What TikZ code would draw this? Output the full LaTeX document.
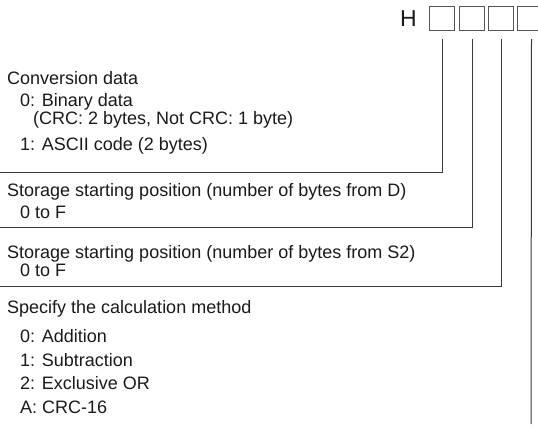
\documentclass[tikz,border=0pt]{standalone}
\usepackage{fontspec}
\setmainfont{Liberation Sans}
\definecolor{txt}{HTML}{1A1A1A}
\definecolor{ln}{HTML}{3A3A3A}
\definecolor{bx}{HTML}{555555}
\begin{document}
\begin{tikzpicture}[x=1pt,y=-1pt,
  lbl/.style={anchor=base west,inner sep=0pt,text=txt,font=\fontsize{18}{20}\selectfont},
  digitbox/.style={draw=bx,line width=1pt,minimum width=25pt,minimum height=24pt,inner sep=0pt,anchor=north west},
  leader/.style={draw=ln,line width=1pt}]
\clip (0,0) rectangle (538,426);
% header
\node[anchor=base east,inner sep=0pt,text=txt,font=\fontsize{23}{25}\selectfont] (H) at (417,26) {H};
\node[digitbox] (b1) at (429,6) {};
\node[digitbox] (b2) at (459,6) {};
\node[digitbox] (b3) at (488,6) {};
\node[digitbox] (b4) at (517,6) {};
% leader end points
\coordinate (e1) at (0,172);
\coordinate (e2) at (0,227);
\coordinate (e3) at (0,286);
\coordinate (e4) at (531,424);
% leaders
\draw[leader] ([yshift=-8pt]b1.south) |- (e1);
\draw[leader] ([yshift=-8pt]b2.south) |- (e2);
\draw[leader] ([yshift=-8pt]b3.south) |- (e3);
\draw[leader] ([yshift=-8pt,xshift=1.5pt]b4.south) -- (e4);
% texts
\node[lbl] (t1) at (7,84) {Conversion data};
\node[lbl] (t1a) at (20,106) {0: Binary data};
\node[lbl] (t1b) at (33,124) {(CRC: 2 bytes, Not CRC: 1 byte)};
\node[lbl] (t1c) at (20,150) {1: ASCII code (2 bytes)};
\node[lbl] (t2) at (7,196) {Storage starting position (number of bytes from D)};
\node[lbl] (t2a) at (20,218) {0 to F};
\node[lbl] (t3) at (7,258) {Storage starting position (number of bytes from S2)};
\node[lbl] (t3a) at (20,276) {0 to F};
\node[lbl] (t4) at (7,313) {Specify the calculation method};
\node[lbl] (t4a) at (20,342) {0: Addition};
\node[lbl] (t4b) at (20,366) {1: Subtraction};
\node[lbl] (t4c) at (20,389) {2: Exclusive OR};
\node[lbl] (t4d) at (20,413) {A: CRC-16};
\end{tikzpicture}
\end{document}
